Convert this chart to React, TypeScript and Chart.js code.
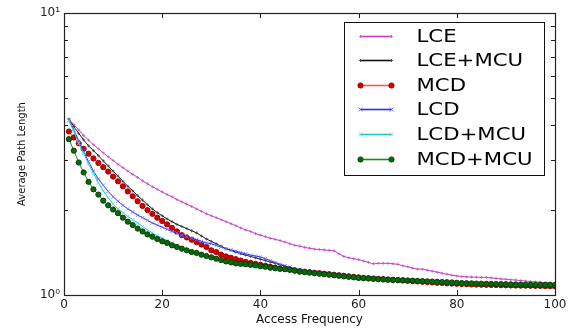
import { useEffect, useRef } from 'react';
import { Chart, registerables } from 'chart.js';

Chart.register(...registerables);

const accessFrequency = [
  1, 2, 3, 4, 5, 6, 7, 8, 9, 10, 11, 12, 13, 14, 15, 16, 17, 18, 19, 20,
  21, 22, 23, 24, 25, 26, 27, 28, 29, 30, 31, 32, 33, 34, 35, 36, 37, 38, 39, 40,
  41, 42, 43, 44, 45, 46, 47, 48, 49, 50, 51, 52, 53, 54, 55, 56, 57, 58, 59, 60,
  61, 62, 63, 64, 65, 66, 67, 68, 69, 70, 71, 72, 73, 74, 75, 76, 77, 78, 79, 80,
  81, 82, 83, 84, 85, 86, 87, 88, 89, 90, 91, 92, 93, 94, 95, 96, 97, 98, 99, 100,
];

const lce = [
  4.20, 4.02, 3.85, 3.68, 3.54, 3.41, 3.30, 3.19, 3.09, 3.00,
  2.91, 2.83, 2.75, 2.68, 2.61, 2.54, 2.48, 2.42, 2.37, 2.32,
  2.27, 2.23, 2.18, 2.14, 2.10, 2.06, 2.02, 1.98, 1.94, 1.91,
  1.88, 1.85, 1.82, 1.79, 1.76, 1.73, 1.70, 1.68, 1.65, 1.63,
  1.61, 1.59, 1.575, 1.56, 1.54, 1.52, 1.50, 1.49, 1.475, 1.465,
  1.455, 1.45, 1.445, 1.44, 1.435, 1.40, 1.37, 1.355, 1.345, 1.335,
  1.32, 1.305, 1.29, 1.295, 1.295, 1.295, 1.29, 1.285, 1.27, 1.26,
  1.245, 1.235, 1.235, 1.225, 1.215, 1.205, 1.195, 1.185, 1.175, 1.168,
  1.163, 1.16, 1.158, 1.156, 1.155, 1.155, 1.15, 1.145, 1.14, 1.137,
  1.133, 1.13, 1.125, 1.12, 1.117, 1.113, 1.11, 1.107, 1.104, 1.10,
];

const lceMcu = [
  4.20, 3.96, 3.74, 3.55, 3.38, 3.25, 3.12, 2.99, 2.87, 2.75,
  2.64, 2.53, 2.43, 2.34, 2.25, 2.17, 2.09, 2.02, 1.96, 1.91,
  1.86, 1.82, 1.78, 1.75, 1.72, 1.69, 1.66, 1.62, 1.58, 1.55,
  1.52, 1.49, 1.46, 1.44, 1.42, 1.40, 1.385, 1.37, 1.355, 1.34,
  1.325, 1.31, 1.295, 1.28, 1.265, 1.25, 1.235, 1.225, 1.215, 1.205,
  1.20, 1.195, 1.19, 1.185, 1.18, 1.175, 1.17, 1.165, 1.16, 1.155,
  1.15, 1.145, 1.14, 1.137, 1.134, 1.131, 1.128, 1.125, 1.122, 1.119,
  1.116, 1.113, 1.11, 1.107, 1.104, 1.10, 1.097, 1.094, 1.091, 1.088,
  1.085, 1.083, 1.081, 1.079, 1.077, 1.075, 1.073, 1.072, 1.07, 1.069,
  1.068, 1.067, 1.066, 1.065, 1.064, 1.063, 1.062, 1.061, 1.06, 1.06,
];

const mcd = [
  3.80, 3.62, 3.45, 3.30, 3.17, 3.05, 2.94, 2.84, 2.74, 2.63,
  2.53, 2.43, 2.33, 2.24, 2.15, 2.07, 2.00, 1.94, 1.88, 1.83,
  1.78, 1.73, 1.68, 1.63, 1.60, 1.57, 1.54, 1.51, 1.48, 1.44,
  1.42, 1.39, 1.37, 1.355, 1.34, 1.325, 1.31, 1.30, 1.29, 1.28,
  1.27, 1.26, 1.25, 1.24, 1.235, 1.23, 1.222, 1.215, 1.21, 1.205,
  1.20, 1.195, 1.19, 1.185, 1.18, 1.175, 1.17, 1.165, 1.16, 1.155,
  1.15, 1.147, 1.144, 1.141, 1.138, 1.135, 1.132, 1.129, 1.126, 1.123,
  1.12, 1.117, 1.114, 1.111, 1.108, 1.105, 1.103, 1.10, 1.098, 1.096,
  1.094, 1.092, 1.09, 1.089, 1.088, 1.087, 1.086, 1.085, 1.084, 1.083,
  1.082, 1.081, 1.08, 1.08, 1.079, 1.078, 1.078, 1.077, 1.077, 1.076,
];

const lcd = [
  4.17, 3.85, 3.52, 3.22, 2.97, 2.75, 2.58, 2.45, 2.33, 2.23,
  2.15, 2.08, 2.02, 1.97, 1.92, 1.88, 1.84, 1.80, 1.77, 1.74,
  1.71, 1.68, 1.66, 1.63, 1.61, 1.59, 1.57, 1.55, 1.53, 1.52,
  1.50, 1.48, 1.46, 1.445, 1.43, 1.415, 1.40, 1.385, 1.375, 1.365,
  1.345, 1.325, 1.305, 1.285, 1.27, 1.255, 1.24, 1.23, 1.22, 1.21,
  1.205, 1.20, 1.195, 1.19, 1.185, 1.18, 1.175, 1.17, 1.165, 1.16,
  1.157, 1.154, 1.151, 1.148, 1.145, 1.142, 1.139, 1.136, 1.133, 1.13,
  1.127, 1.124, 1.121, 1.118, 1.115, 1.112, 1.11, 1.108, 1.106, 1.104,
  1.102, 1.10, 1.098, 1.097, 1.096, 1.095, 1.094, 1.093, 1.092, 1.091,
  1.09, 1.089, 1.088, 1.088, 1.087, 1.087, 1.086, 1.086, 1.085, 1.085,
];

const lcdMcu = [
  4.15, 3.80, 3.45, 3.18, 2.92, 2.70, 2.50, 2.34, 2.21, 2.10,
  2.02, 1.96, 1.90, 1.85, 1.80, 1.75, 1.70, 1.66, 1.62, 1.59,
  1.56, 1.53, 1.50, 1.47, 1.45, 1.43, 1.41, 1.39, 1.37, 1.355,
  1.34, 1.325, 1.31, 1.30, 1.29, 1.28, 1.27, 1.26, 1.255, 1.25,
  1.245, 1.24, 1.235, 1.23, 1.225, 1.22, 1.215, 1.21, 1.20, 1.195,
  1.19, 1.185, 1.18, 1.175, 1.17, 1.165, 1.16, 1.155, 1.15, 1.147,
  1.144, 1.141, 1.138, 1.135, 1.132, 1.13, 1.128, 1.126, 1.124, 1.122,
  1.12, 1.118, 1.116, 1.114, 1.112, 1.11, 1.108, 1.106, 1.104, 1.102,
  1.10, 1.099, 1.098, 1.097, 1.096, 1.095, 1.094, 1.093, 1.092, 1.091,
  1.09, 1.089, 1.088, 1.087, 1.087, 1.086, 1.086, 1.085, 1.085, 1.084,
];

const mcdMcu = [
  3.57, 3.25, 2.95, 2.72, 2.52, 2.37, 2.27, 2.16, 2.08, 2.01,
  1.95, 1.88, 1.82, 1.77, 1.72, 1.68, 1.64, 1.61, 1.58, 1.55,
  1.53, 1.50, 1.48, 1.46, 1.44, 1.42, 1.41, 1.39, 1.375, 1.36,
  1.345, 1.33, 1.315, 1.305, 1.295, 1.29, 1.285, 1.28, 1.275, 1.265,
  1.26, 1.25, 1.245, 1.24, 1.235, 1.23, 1.22, 1.21, 1.205, 1.20,
  1.195, 1.19, 1.185, 1.18, 1.175, 1.17, 1.165, 1.16, 1.155, 1.15,
  1.147, 1.144, 1.141, 1.138, 1.135, 1.133, 1.131, 1.13, 1.128, 1.126,
  1.124, 1.122, 1.12, 1.118, 1.116, 1.114, 1.112, 1.11, 1.108, 1.105,
  1.103, 1.101, 1.10, 1.098, 1.097, 1.096, 1.095, 1.094, 1.093, 1.092,
  1.091, 1.09, 1.089, 1.088, 1.088, 1.087, 1.087, 1.086, 1.086, 1.085,
];

const seriesLabels = ['LCE', 'LCE+MCU', 'MCD', 'LCD', 'LCD+MCU', 'MCD+MCU'];
const xTickValues = [0, 20, 40, 60, 80, 100];
const yTickLabels: Record<number, string> = { 1: '10\u2070', 10: '10\u00B9' };
const yMinorTicks = [2, 3, 4, 5, 6, 7, 8, 9];

const FONT = "'DejaVu Sans', sans-serif";

function toPoints(values: number[]) {
  return values.map((v, i) => ({ x: accessFrequency[i], y: v }));
}

function drawMarker(ctx: CanvasRenderingContext2D, style: string, x: number, y: number, r: number, fill: string, stroke: string) {
  ctx.save();
  ctx.fillStyle = fill;
  ctx.strokeStyle = stroke;
  ctx.lineWidth = 1;
  ctx.beginPath();
  if (style === 'circle') {
    ctx.arc(x, y, r, 0, Math.PI * 2);
    ctx.fill();
    ctx.stroke();
  } else if (style === 'cross') {
    ctx.moveTo(x - r, y);
    ctx.lineTo(x + r, y);
    ctx.moveTo(x, y - r);
    ctx.lineTo(x, y + r);
    ctx.stroke();
  } else {
    const d = r * 0.8;
    ctx.moveTo(x - d, y - d);
    ctx.lineTo(x + d, y + d);
    ctx.moveTo(x - d, y + d);
    ctx.lineTo(x + d, y - d);
    ctx.stroke();
  }
  ctx.restore();
}

const decorPlugin = {
  id: 'decor',
  afterDraw(chart: any) {
    const { ctx, chartArea } = chart;
    const { left, right, top, bottom } = chartArea;
    const xs = chart.scales.x;
    const ys = chart.scales.y;
    ctx.save();
    ctx.strokeStyle = '#222';
    ctx.lineWidth = 1;
    ctx.beginPath();
    for (const v of yMinorTicks) {
      const y = Math.round(ys.getPixelForValue(v)) + 0.5;
      ctx.moveTo(left, y);
      ctx.lineTo(left + 4, y);
      ctx.moveTo(right, y);
      ctx.lineTo(right - 4, y);
    }
    for (const v of xTickValues) {
      if (v === 0 || v === 100) continue;
      const x = Math.round(xs.getPixelForValue(v)) + 0.5;
      ctx.moveTo(x, bottom);
      ctx.lineTo(x, bottom - 5);
      ctx.moveTo(x, top);
      ctx.lineTo(x, top + 5);
    }
    ctx.stroke();
    ctx.strokeStyle = '#222';
    ctx.lineWidth = 1.2;
    ctx.strokeRect(Math.round(left) + 0.5, Math.round(top) + 0.5, Math.round(right - left), Math.round(bottom - top));

    ctx.fillStyle = '#111';
    ctx.textAlign = 'center';
    ctx.textBaseline = 'middle';
    ctx.font = `12px ${FONT}`;
    ctx.fillText('Access Frequency', (left + right) / 2, 320);
    ctx.save();
    ctx.translate(22, (top + bottom) / 2);
    ctx.rotate(-Math.PI / 2);
    ctx.font = `10px ${FONT}`;
    ctx.fillText('Average Path Length', 0, 0);
    ctx.restore();

    const bw = 200;
    const bh = 153;
    const bx = Math.round(right - 211) + 0.5;
    const by = Math.round(top + 9) + 0.5;
    ctx.fillStyle = '#fff';
    ctx.fillRect(bx, by, bw, bh);
    ctx.strokeStyle = '#111';
    ctx.lineWidth = 1;
    ctx.strokeRect(bx, by, bw, bh);
    chart.data.datasets.forEach((ds: any, i: number) => {
      const y = Math.round(by + 13 + i * 24.6) + 0.5;
      const x0 = Math.round(bx + 15);
      const x1 = Math.round(bx + 47);
      ctx.strokeStyle = ds.borderColor;
      ctx.lineWidth = 1.6;
      ctx.beginPath();
      ctx.moveTo(x0, y);
      ctx.lineTo(x1, y);
      ctx.stroke();
      drawMarker(ctx, ds.pointStyle, x0 + 0.5, y, ds.pointRadius, ds.pointBackgroundColor, ds.pointBorderColor);
      drawMarker(ctx, ds.pointStyle, x1 - 0.5, y, ds.pointRadius, ds.pointBackgroundColor, ds.pointBorderColor);
      ctx.save();
      ctx.translate(bx + 72, y + 0.5);
      ctx.scale(1.18, 1);
      ctx.fillStyle = '#000';
      ctx.textAlign = 'left';
      ctx.textBaseline = 'middle';
      ctx.font = `18px ${FONT}`;
      ctx.fillText(ds.label, 0, 0);
      ctx.restore();
    });
    ctx.restore();
  },
};

export default function App() {
  const canvasRef = useRef<HTMLCanvasElement | null>(null);

  useEffect(() => {
    document.body.style.margin = '0';
    const canvas = canvasRef.current;
    if (!canvas) return;
    const mk = (label: string, values: number[], color: string, style: string, r: number, fill: string, stroke: string, order: number) => ({
      label,
      data: toPoints(values),
      borderColor: color,
      backgroundColor: color,
      borderWidth: 1,
      pointStyle: style,
      pointRadius: r,
      pointHoverRadius: r,
      pointBackgroundColor: fill,
      pointBorderColor: stroke,
      pointBorderWidth: 1,
      tension: 0,
      fill: false,
      order,
    });
    const chart = new Chart(canvas, {
      type: 'line',
      data: {
        datasets: [
          mk(seriesLabels[0], lce, '#c33cc3', 'cross', 1.5, '#d070d0', 'rgba(200,80,200,0.8)', 5),
          mk(seriesLabels[1], lceMcu, '#111111', 'cross', 1.5, '#555555', 'rgba(60,60,60,0.8)', 4),
          mk(seriesLabels[2], mcd, 'rgba(240,60,60,0.85)', 'circle', 2.6, '#d40000', '#a00000', 3),
          mk(seriesLabels[3], lcd, '#2a2aff', 'crossRot', 2.4, '#7a7aff', 'rgba(110,110,255,0.85)', 2),
          mk(seriesLabels[4], lcdMcu, '#1ccccc', 'crossRot', 2.4, '#66dddd', 'rgba(90,220,220,0.85)', 1),
          mk(seriesLabels[5], mcdMcu, '#1f8a1f', 'circle', 2.6, '#0a6a0a', '#073f07', 0),
        ] as any,
      },
      options: {
        animation: false,
        responsive: false,
        maintainAspectRatio: false,
        events: [],
        layout: { padding: { top: 13, right: 17, left: 0, bottom: 0 } },
        plugins: {
          legend: { display: false },
          tooltip: { enabled: false },
        },
        scales: {
          x: {
            type: 'linear',
            min: 0,
            max: 100,
            afterBuildTicks: (s: any) => {
              s.ticks = xTickValues.map((v) => ({ value: v }));
            },
            afterFit: (s: any) => {
              s.height = 34;
            },
            ticks: {
              color: '#222',
              font: { family: FONT, size: 12 },
              padding: 3,
              maxRotation: 0,
            },
            grid: { display: false, drawTicks: false },
            border: { display: false },
          },
          y: {
            type: 'logarithmic',
            min: 1,
            max: 10,
            afterBuildTicks: (s: any) => {
              s.ticks = [{ value: 1 }, { value: 10 }];
            },
            afterFit: (s: any) => {
              s.width = 64;
            },
            ticks: {
              color: '#222',
              font: { family: FONT, size: 12 },
              padding: 4,
              callback: (v: any) => yTickLabels[Number(v)] ?? '',
            },
            grid: { display: false, drawTicks: false },
            border: { display: false },
          },
        },
      } as any,
      plugins: [decorPlugin],
    });
    return () => chart.destroy();
  }, []);

  return (
    <div style={{ position: 'absolute', left: 0, top: 0, width: 572, height: 329 }}>
      <canvas ref={canvasRef} width={572} height={329} style={{ width: 572, height: 329 }} />
    </div>
  );
}
